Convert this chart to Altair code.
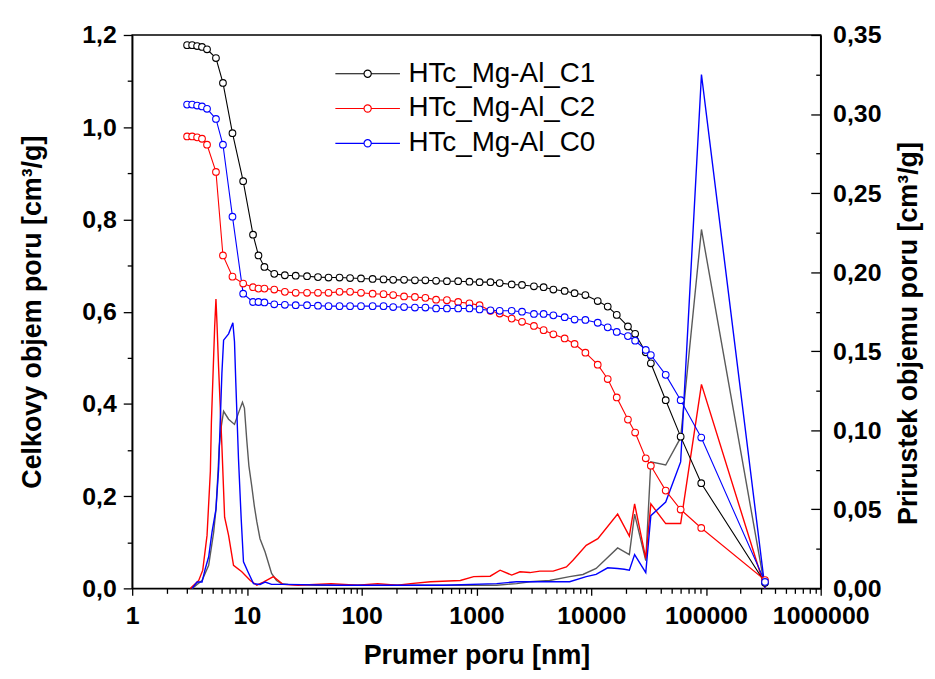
import altair as alt
import pandas as pd

FONT = "Liberation Sans"

SERIES = ["HTc_Mg-Al_C1", "HTc_Mg-Al_C2", "HTc_Mg-Al_C0"]
CUM_COLORS = ["#000000", "#ff0000", "#0000ff"]
INC_COLORS = ["#5a5a5a", "#ff0000", "#0000ff"]

# ---- cumulative pore volume (left axis) ----
X_CUM = [3.01, 3.33, 3.68, 4.06, 4.49, 5.37, 6.18, 7.48, 9.27, 11.3,
         12.6, 14.2, 17.3, 21.4, 26.6, 33.4, 41.6, 51.4, 64.1, 79.2,
         98.6, 124.5, 155, 188, 234, 291, 359, 445, 553, 693,
         869, 1065, 1325, 1594, 2028, 2495, 3170, 3850, 4680, 5870,
         7165, 8900, 11400, 13930, 16700, 20900, 24150, 29900, 33100, 44600,
         60200, 91000, 327000]
CUM_C1 = [1.178, 1.178, 1.176, 1.174, 1.169, 1.150, 1.096, 0.987, 0.883, 0.767,
          0.722, 0.697, 0.682, 0.679, 0.678, 0.677, 0.675, 0.674, 0.674, 0.673,
          0.672, 0.671, 0.670, 0.669, 0.669, 0.668, 0.668, 0.667, 0.666, 0.666,
          0.665, 0.664, 0.664, 0.662, 0.659, 0.658, 0.655, 0.653, 0.648, 0.645,
          0.640, 0.636, 0.623, 0.611, 0.593, 0.568, 0.552, 0.512, 0.488, 0.408,
          0.329, 0.228, 0.012]
CUM_C2 = [0.980, 0.980, 0.978, 0.975, 0.962, 0.903, 0.722, 0.676, 0.661, 0.653,
          0.650, 0.650, 0.648, 0.643, 0.641, 0.641, 0.641, 0.641, 0.643, 0.643,
          0.641, 0.639, 0.638, 0.636, 0.633, 0.632, 0.630, 0.626, 0.625, 0.621,
          0.618, 0.614, 0.602, 0.596, 0.585, 0.578, 0.569, 0.560, 0.551, 0.542,
          0.530, 0.511, 0.485, 0.454, 0.414, 0.366, 0.338, 0.282, 0.266, 0.212,
          0.171, 0.131, 0.018]
CUM_C0 = [1.049, 1.049, 1.047, 1.045, 1.040, 1.018, 0.962, 0.806, 0.639, 0.621,
          0.621, 0.620, 0.616, 0.615, 0.614, 0.614, 0.613, 0.612, 0.612, 0.612,
          0.612, 0.612, 0.612, 0.610, 0.610, 0.609, 0.609, 0.607, 0.607, 0.607,
          0.607, 0.605, 0.603, 0.602, 0.602, 0.600, 0.595, 0.595, 0.592, 0.588,
          0.583, 0.582, 0.576, 0.566, 0.556, 0.547, 0.537, 0.517, 0.506, 0.463,
          0.408, 0.327, 0.014]

# ---- incremental pore volume (right axis) ----
INC_C1_X = [3.33, 4.06, 4.64, 5.13, 5.37, 5.59, 5.74, 5.98, 6.26, 6.92,
            7.79, 8.44, 9.14, 9.51, 9.96, 10.4, 11.0, 11.6, 12.2, 13.0,
            14.4, 16.4, 18.1, 20.0, 22.9, 40, 100, 300, 700, 1500,
            2240, 2925, 4350, 6490, 8470, 11040, 17000, 21500, 23900, 29900,
            33100, 44600, 60200, 91400, 327000]
INC_C1_Y = [0.0, 0.005, 0.0146, 0.0356, 0.050, 0.073, 0.090, 0.1026, 0.112, 0.107,
            0.1037, 0.111, 0.1177, 0.114, 0.094, 0.0775, 0.065, 0.052, 0.042, 0.0314,
            0.023, 0.0094, 0.005, 0.003, 0.0025, 0.002, 0.002, 0.002, 0.002, 0.002,
            0.003, 0.0042, 0.005, 0.0074, 0.0088, 0.0126, 0.0256, 0.0214, 0.047, 0.0175,
            0.080, 0.078, 0.0953, 0.227, 0.0]
INC_C2_X = [3.22, 3.80, 4.12, 4.49, 4.80, 4.90, 5.23, 5.37, 5.48, 5.66,
            6.05, 6.39, 6.92, 7.64, 9.02, 10.7, 12.2, 13.9, 17.0, 20.7,
            27.9, 54.2, 92.3, 137.6, 205, 267, 398, 724, 946, 1317,
            1607, 2029, 2397, 2925, 3570, 4660, 6080, 6940, 9050, 11430,
            17000, 21500, 23900, 29900, 33100, 44600, 60200, 91400, 327000]
INC_C2_Y = [0.0, 0.005, 0.0115, 0.0335, 0.074, 0.105, 0.165, 0.183, 0.168, 0.140,
            0.090, 0.045, 0.0335, 0.0146, 0.0105, 0.005, 0.002, 0.004, 0.0074, 0.0025,
            0.002, 0.003, 0.002, 0.003, 0.002, 0.003, 0.0042, 0.005, 0.0074, 0.0077,
            0.0115, 0.0084, 0.0105, 0.010, 0.0109, 0.0109, 0.0136, 0.0178, 0.0272, 0.0314,
            0.047, 0.033, 0.0534, 0.019, 0.0534, 0.041, 0.041, 0.129, 0.0]
INC_C0_X = [3.33, 3.68, 4.06, 4.34, 4.64, 4.96, 5.37, 5.66, 5.86, 6.05,
            6.26, 6.92, 7.54, 7.79, 8.00, 8.44, 8.91, 9.33, 10.2, 11.4,
            13.0, 14.4, 16.4, 21.4, 60, 200, 520, 1500, 2240, 3340,
            6490, 9050, 11040, 13930, 17000, 19440, 21500, 23900, 29900, 33100,
            44600, 60200, 91400, 327000]
INC_C0_Y = [0.0, 0.004, 0.004, 0.0126, 0.020, 0.0356, 0.050, 0.075, 0.107, 0.136,
            0.157, 0.161, 0.168, 0.156, 0.130, 0.082, 0.044, 0.0168, 0.0105, 0.003,
            0.0025, 0.004, 0.0025, 0.0025, 0.002, 0.002, 0.002, 0.003, 0.0042, 0.0042,
            0.0042, 0.0074, 0.0088, 0.013, 0.0126, 0.0121, 0.0115, 0.0214, 0.0100, 0.046,
            0.0546, 0.080, 0.325, 0.0]

# ---- axis tick values ----
X_MAJOR = [1, 10, 100, 1000, 10000, 100000, 1000000]
X_MINOR = [m * 10 ** k for k in range(6) for m in range(2, 10)]
YL_MAJOR = [0.0, 0.2, 0.4, 0.6, 0.8, 1.0, 1.2]
YL_MINOR = [0.1, 0.3, 0.5, 0.7, 0.9, 1.1]
YR_MAJOR = [0.0, 0.05, 0.10, 0.15, 0.20, 0.25, 0.30, 0.35]
YR_MINOR = [0.025, 0.075, 0.125, 0.175, 0.225, 0.275, 0.325]

cum_rows = []
for name, vals in zip(SERIES, [CUM_C1, CUM_C2, CUM_C0]):
    for xv, yv in zip(X_CUM, vals):
        cum_rows.append({"x": xv, "y": yv, "series": name})
cum = pd.DataFrame(cum_rows)

inc_rows = []
for name, xs, ys in zip(SERIES, [INC_C1_X, INC_C2_X, INC_C0_X], [INC_C1_Y, INC_C2_Y, INC_C0_Y]):
    for xv, yv in zip(xs, ys):
        inc_rows.append({"x": xv, "y": yv, "series": name})
inc = pd.DataFrame(inc_rows)

xscale = alt.Scale(type="log", domain=[1, 1000000])
yl = alt.Scale(domain=[0, 1.2])
yr = alt.Scale(domain=[0, 0.35])

common = dict(grid=False, domainColor="black", tickColor="black", labelColor="black",
              titleColor="black", labelFont=FONT, titleFont=FONT, labelFontSize=25,
              labelFontWeight="bold", titleFontSize=27, titleFontWeight="bold",
              domainWidth=1.5, tickWidth=1.3)

x_main = alt.Axis(orient="bottom", values=X_MAJOR, format="d", tickSize=7, labelPadding=8,
                  labelFlush=False, labelOverlap=False, title="Prumer poru [nm]",
                  titlePadding=15, **common)
x_minor = alt.Axis(orient="bottom", values=X_MINOR, tickSize=5, labels=False, domain=False,
                   title=None, grid=False, tickColor="black", tickWidth=1.3)
yl_main = alt.Axis(orient="left", values=YL_MAJOR, tickSize=9, labelPadding=7,
                   labelExpr="replace(format(datum.value, '.1f'), '.', ',')",
                   title="Celkovy objem poru [cm³/g]", titlePadding=36, **common)
yl_minor = alt.Axis(orient="left", values=YL_MINOR, tickSize=5, labels=False, domain=False,
                    title=None, grid=False, tickColor="black", tickWidth=1.3)
yr_main = alt.Axis(orient="right", values=YR_MAJOR, tickSize={"expr": "-10"}, labelPadding=22,
                   labelExpr="replace(format(datum.value, '.2f'), '.', ',')",
                   title="Prirustek objemu poru [cm³/g]", titlePadding=15,
                   titleAngle=270, titleBaseline="top", titleY=300, **common)
yr_minor = alt.Axis(orient="right", values=YR_MINOR, tickSize={"expr": "-5"}, labels=False,
                    domain=False, title=None, grid=False, tickColor="black", tickWidth=1.3)

# legend glyph: short line with an open circle in the middle
SYMBOL = ("M-2.5,0H-0.28M0.28,0H2.5M0.28,0A0.28,0.28,0,1,1,-0.28,0"
          "A0.28,0.28,0,1,1,0.28,0")
legend = alt.Legend(title=None, orient="none", legendX=223, legendY=25, symbolType=SYMBOL,
                    symbolSize=676, symbolStrokeWidth=1.2, labelFont=FONT, labelFontSize=28,
                    labelFontWeight="normal", labelColor="black", labelOffset=27,
                    labelLimit=0, rowPadding=7, padding=0)

cum_color = alt.Color("series:N", scale=alt.Scale(domain=SERIES, range=CUM_COLORS), legend=legend)
inc_color = alt.Color("series:N", scale=alt.Scale(domain=SERIES, range=INC_COLORS), legend=None)

cum_line = alt.Chart(cum).mark_line(strokeWidth=1.1).encode(
    x=alt.X("x:Q", scale=xscale, axis=x_main),
    y=alt.Y("y:Q", scale=yl, axis=yl_main),
    color=cum_color,
)
cum_pts = alt.Chart(cum).mark_point(shape="circle", size=45, strokeWidth=1.1, fill="white",
                                    opacity=1).encode(
    x=alt.X("x:Q", scale=xscale, axis=None),
    y=alt.Y("y:Q", scale=yl, axis=None),
    color=cum_color,
)
cum_minor = alt.Chart(cum).mark_point(opacity=0).encode(
    x=alt.X("x:Q", scale=xscale, axis=x_minor),
    y=alt.Y("y:Q", scale=yl, axis=yl_minor),
)
layer_cum = alt.layer(cum_line, cum_pts, cum_minor).resolve_axis(x="independent", y="independent")

inc_line = alt.Chart(inc).mark_line(strokeWidth=1.4).encode(
    x=alt.X("x:Q", scale=xscale, axis=None),
    y=alt.Y("y:Q", scale=yr, axis=yr_main),
    color=inc_color,
)
inc_minor = alt.Chart(inc).mark_point(opacity=0).encode(
    x=alt.X("x:Q", scale=xscale, axis=None),
    y=alt.Y("y:Q", scale=yr, axis=yr_minor),
)
layer_inc = alt.layer(inc_line, inc_minor).resolve_axis(y="independent")

chart = alt.layer(layer_inc, layer_cum).resolve_scale(
    y="independent", color="independent"
).resolve_axis(
    x="independent", y="independent"
).properties(
    width=693, height=557,
    autosize=alt.AutoSizeParams(type="none"),
    padding={"left": 125, "top": 25, "right": 107, "bottom": 81},
).configure_view(
    stroke="black", strokeWidth=1.5
).configure_axis(grid=False)

chart.save("out.html", embed_options={"renderer": "svg", "actions": False})
